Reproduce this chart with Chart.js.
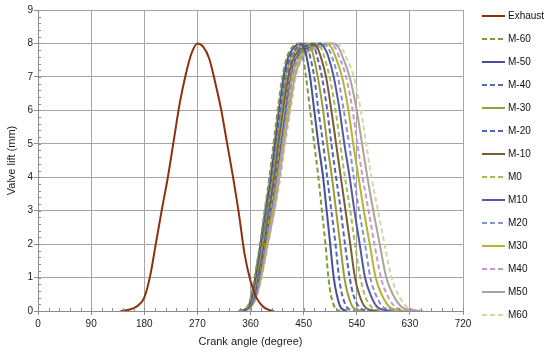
<!DOCTYPE html>
<html>
<head>
<meta charset="utf-8">
<script src="https://cdn.jsdelivr.net/npm/chart.js@4/dist/chart.umd.min.js"></script>
<style>
html,body{margin:0;padding:0;background:#fff;}
#wrap{width:550px;height:356px;position:relative;}
</style>
</head>
<body>
<div id="wrap"><canvas id="c" width="550" height="356"></canvas></div>
<script>
// ---- data ----
const xTicks = [0, 90, 180, 270, 360, 450, 540, 630, 720];
const yTicks = [0, 1, 2, 3, 4, 5, 6, 7, 8, 9];

const exhaustAngles = [140,150,160,170,180,190,200,210,220,230,240,250,260,270,280,290,300,310,320,330,340,350,360,370,380,390,400];
const exhaustLift   = [0,0.02,0.07,0.17,0.4,1.05,2.05,3.05,4.0,5.1,6.2,7.05,7.7,8.0,7.9,7.55,6.85,6.05,5.05,4.05,2.95,1.7,0.9,0.4,0.15,0.04,0];

// lift levels at which each intake curve's crank angle was read
const liftLevels = [0,0.1,0.5,1,2,3,4,5,6,7,7.6,7.85,8,7.85,7.6,7,6,5,4,3,2,1,0.5,0.1,0];

const seriesNames = ["M-60","M-50","M-40","M-30","M-20","M-10","M0","M10","M20","M30","M40","M50","M60"];
const angM60n = [340,354,362,367,376,384,392,399,406,414,422,429,440,445,449,454,461,468,475,481,487,492,496,503,512];
const angM50n = [340,355,363,368,377,385,394,401,408,416,424,432,445,451,455,461,468,475,483,489,495,501,506,513,524];
const angM40n = [341,355,364,369,378,387,395,402,410,418,427,437,451,457,461,468,475,483,490,497,504,510,515,524,537];
const angM30n = [341,356,365,370,380,388,397,404,412,420,429,440,456,463,467,474,483,490,498,505,512,519,525,534,549];
const angM20n = [342,356,365,371,381,390,398,406,413,422,431,443,462,469,473,481,490,497,505,513,520,528,534,545,561];
const angM10n = [342,357,366,372,382,391,400,407,415,424,434,447,467,474,479,488,497,505,513,521,529,537,544,555,574];
const angM0   = [342,357,367,373,383,393,402,409,417,426,436,450,472,480,485,494,504,512,520,529,537,546,553,566,586];
const angM10  = [343,358,368,374,384,394,403,411,419,427,438,454,478,486,492,501,511,519,528,536,545,554,563,576,598];
const angM20  = [343,358,369,375,385,395,405,412,421,429,441,458,483,492,498,508,518,527,535,544,554,563,572,586,611];
const angM30  = [344,359,369,376,387,397,406,414,423,431,443,461,489,498,504,515,526,534,543,552,562,572,582,597,623];
const angM40  = [344,359,370,377,388,398,408,416,424,433,445,465,494,504,510,522,533,541,550,560,570,581,591,607,635];
const angM50  = [345,360,371,378,389,400,409,417,426,435,448,469,500,510,516,528,540,549,558,568,579,590,601,618,648];
const angM60  = [345,360,372,379,390,401,411,419,428,437,450,472,505,515,522,535,547,556,565,576,587,599,610,628,660];
const intakeAngles = [angM60n,angM50n,angM40n,angM30n,angM20n,angM10n,angM0,angM10,angM20,angM30,angM40,angM50,angM60];

// ---- styles ----
const FONT = "'Liberation Sans', Arial, sans-serif";
const exhaustColor = "#8e3010";
const intakeColors = ["#7f9a3e","#4c4c9c","#4f6bb3","#a09c35","#5362bb","#7b5a38","#a3bd55","#5757a8","#8494d2","#b8b232","#c09ad8","#aba49b","#d8d4a4"];
const intakeDashed = [true,false,true,false,true,false,true,false,true,false,true,false,true];

const datasets = [{
  label: "Exhaust",
  data: exhaustAngles.map((a, i) => ({x: a, y: exhaustLift[i]})),
  borderColor: exhaustColor, borderWidth: 2, pointRadius: 0,
  cubicInterpolationMode: 'monotone', fill: false
}];
seriesNames.forEach((name, k) => {
  datasets.push({
    label: name,
    data: intakeAngles[k].map((a, i) => ({x: a, y: liftLevels[i]})),
    borderColor: intakeColors[k], borderWidth: 2, pointRadius: 0,
    borderDash: intakeDashed[k] ? [5, 3] : [],
    cubicInterpolationMode: 'monotone', fill: false
  });
});

const extras = {
  id: 'extras',
  afterDraw(chart) {
    const ctx = chart.ctx;
    const xs = chart.scales.x, ys = chart.scales.y;
    ctx.save();
    // minor ticks
    ctx.strokeStyle = '#8c8c8c';
    ctx.lineWidth = 1;
    ctx.beginPath();
    for (let v = 0; v <= 9.0001; v += 0.2) {
      const p = Math.round(ys.getPixelForValue(v)) + 0.5;
      ctx.moveTo(xs.left, p); ctx.lineTo(xs.left + 3, p);
    }
    for (let v = 0; v <= 720; v += 18) {
      const p = Math.round(xs.getPixelForValue(v)) + 0.5;
      ctx.moveTo(p, ys.bottom); ctx.lineTo(p, ys.bottom - 3);
    }
    ctx.stroke();
    // legend
    ctx.font = "10px " + FONT;
    ctx.textBaseline = 'middle';
    ctx.fillStyle = '#111';
    chart.data.datasets.forEach((ds, i) => {
      const y = 16 + i * 23;
      ctx.strokeStyle = ds.borderColor;
      ctx.lineWidth = 2;
      ctx.setLineDash(ds.borderDash || []);
      ctx.beginPath();
      ctx.moveTo(482, y); ctx.lineTo(505, y);
      ctx.stroke();
      ctx.setLineDash([]);
      ctx.fillText(ds.label, 508, y + 0.5);
    });
    ctx.restore();
  }
};

new Chart(document.getElementById('c'), {
  type: 'line',
  data: { datasets },
  options: {
    responsive: false,
    animation: false,
    events: [],
    layout: { padding: { top: 10, right: 87, left: 0, bottom: 0 } },
    plugins: { legend: { display: false }, tooltip: { enabled: false } },
    scales: {
      x: {
        type: 'linear', min: 0, max: 720,
        afterBuildTicks: s => { s.ticks = xTicks.map(v => ({value: v})); },
        afterFit: s => { s.height = 45; },
        grid: { color: '#a6a6a6', tickColor: '#8c8c8c', tickLength: 4, lineWidth: 1 },
        border: { color: '#8c8c8c' },
        ticks: { font: { family: FONT, size: 10 }, color: '#222', padding: 3, maxRotation: 0 },
        title: { display: true, text: 'Crank angle (degree)', font: { family: FONT, size: 11 }, color: '#222', padding: { top: 0, bottom: 7 } }
      },
      y: {
        type: 'linear', min: 0, max: 9,
        afterBuildTicks: s => { s.ticks = yTicks.map(v => ({value: v})); },
        afterFit: s => { s.width = 38; },
        grid: { color: '#a6a6a6', tickColor: '#8c8c8c', tickLength: 4, lineWidth: 1 },
        border: { color: '#8c8c8c' },
        ticks: { font: { family: FONT, size: 10 }, color: '#222', padding: 1 },
        title: { display: true, text: 'Valve lift (mm)', font: { family: FONT, size: 11 }, color: '#222', padding: { top: 5, bottom: 0 } }
      }
    }
  },
  plugins: [extras]
});
</script>
</body>
</html>
